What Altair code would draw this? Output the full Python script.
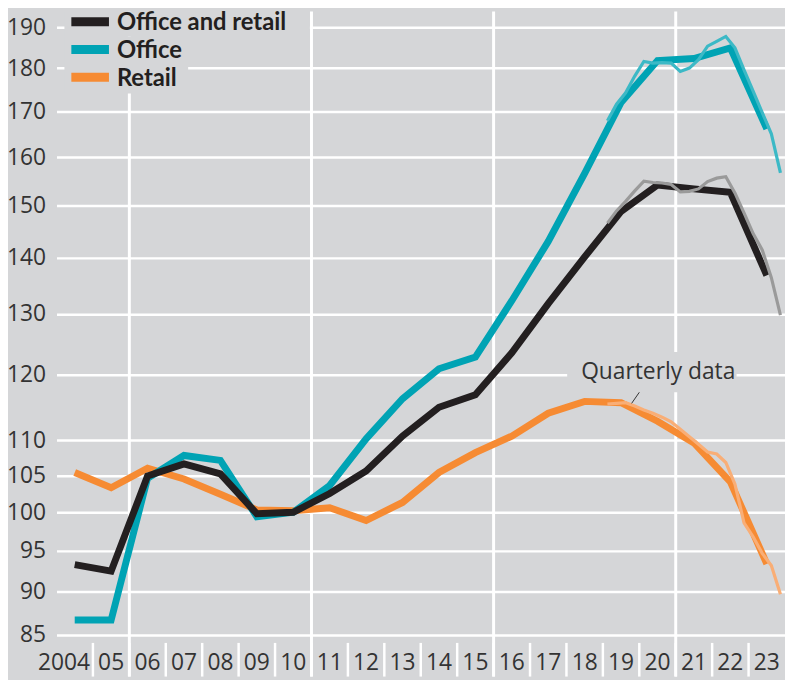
import altair as alt
import pandas as pd

# ---------------- data ----------------
years = list(range(2004, 2024))
x_labels = ["2004", "05", "06", "07", "08", "09", "10", "11", "12", "13",
            "14", "15", "16", "17", "18", "19", "20", "21", "22", "23"]

office_retail = [93.3, 92.5, 104.9, 106.6, 105.2, 99.8, 100.0, 102.5, 105.6, 110.6,
                 114.9, 116.8, 123.5, 131.8, 140.2, 148.9, 154.2, 153.4, 152.7, 136.8]
office = [86.7, 86.7, 104.6, 107.8, 107.1, 99.4, 100.0, 103.6, 110.2, 116.2,
          120.9, 122.8, 132.3, 143.1, 156.6, 172.0, 181.8, 182.3, 184.9, 166.1]
retail = [105.4, 103.3, 106.0, 104.5, 102.4, 100.3, 100.2, 100.6, 98.9, 101.3,
          105.4, 108.2, 110.6, 114.0, 115.8, 115.6, 112.8, 109.6, 104.1, 93.4]

# quarterly data 2019Q1 - 2023Q4
q_years = [2019] * 4 + [2020] * 4 + [2021] * 4 + [2022] * 4 + [2023] * 4
q_quarters = [1, 2, 3, 4] * 5
q_office_retail = [146.6, 149.0, 150.9, 153.0, 155.0, 154.7, 154.6, 154.3, 152.8, 152.9,
                   153.4, 154.9, 155.6, 155.9, 152.6, 148.6, 144.6, 141.5, 136.4, 129.8]
q_office = [167.9, 171.6, 174.2, 178.1, 181.6, 181.2, 181.3, 181.2, 179.2, 180.0,
            182.0, 185.3, 186.5, 187.7, 184.9, 179.6, 174.6, 169.7, 165.0, 156.7]
q_retail = [115.4, 115.5, 115.6, 115.1, 114.5, 114.0, 113.4, 112.7, 111.6, 110.5,
            109.4, 108.3, 108.0, 106.8, 103.8, 98.6, 96.8, 94.7, 93.2, 89.7]

series_names = ["Office and retail", "Office", "Retail"]
annual_colors = ["#231f20", "#00a3b4", "#f68b33"]
quarterly_colors = ["#9a9a9a", "#3cb9c6", "#f9ae76"]

y_ticks = [85, 90, 95, 100, 105, 110, 120, 130, 140, 150, 160, 170, 180, 190]
major_years = [2006, 2011, 2016, 2021]
minor_years = list(range(2005, 2024))

annotation_text = "Quarterly data"

# ---------------- style ----------------
BG = "#d5d6d8"
FONT = "Open Sans"
LFONT = "Lato"
TXT = "#333333"
W, H = 736, 672

xscale = alt.Scale(domain=[2004, 2024], nice=False, zero=False)
yscale = alt.Scale(type="log", domain=[80.45, 194.02], nice=False, zero=False)
yaxis = alt.Axis(values=y_ticks, grid=True, gridColor="white", gridWidth=2.5,
                 gridOpacity=1, domain=False, ticks=False, labelFontSize=23,
                 labelFont=FONT, labelColor=TXT, labelPadding=11, title=None,
                 labelOverlap=False, labelFlush=False, format="d")


def X(field):
    return alt.X(field, type="quantitative", scale=xscale, axis=None)


def Y(field):
    return alt.Y(field, type="quantitative", scale=yscale, axis=yaxis)


one = pd.DataFrame({"a": [0]})

layers = []

# vertical white lines
major_df = pd.DataFrame({"t": major_years})
layers.append(alt.Chart(major_df).mark_rule(color="white", strokeWidth=3).encode(
    x=X("t"), y=alt.value(0), y2=alt.value(H)))
minor_df = pd.DataFrame({"t": minor_years})
layers.append(alt.Chart(minor_df).mark_rule(color="white", strokeWidth=2.5).encode(
    x=X("t"), y=alt.value(H - 34), y2=alt.value(H)))

# x labels
LAB_Y = H - 7
lab_df = pd.DataFrame({"mid": [y + 0.5 for y in years[1:]], "label": x_labels[1:]})
layers.append(alt.Chart(lab_df).mark_text(font=FONT, fontSize=23, color=TXT,
                                          align="center", baseline="alphabetic").encode(
    x=X("mid"), y=alt.value(LAB_Y), text="label:N"))
first_df = pd.DataFrame({"edge": [years[1]], "label": [x_labels[0]]})
layers.append(alt.Chart(first_df).mark_text(font=FONT, fontSize=23, color=TXT,
                                            align="right", baseline="alphabetic", dx=-3).encode(
    x=X("edge"), y=alt.value(LAB_Y), text="label:N"))

# masks (legend + annotation background)
layers.append(alt.Chart(one).mark_rect(color=BG).encode(
    x=alt.value(8), x2=alt.value(256), y=alt.value(0), y2=alt.value(25)))
layers.append(alt.Chart(one).mark_rect(color=BG).encode(
    x=alt.value(8), x2=alt.value(133), y=alt.value(25), y2=alt.value(83)))
ann_mask = pd.DataFrame({"x0": [2018.02], "x1": [2022.67], "y0": [117.2], "y1": [123.6]})
layers.append(alt.Chart(ann_mask).mark_rect(color=BG).encode(
    x=X("x0"), x2="x1", y=Y("y0"), y2="y1"))

# annual lines (retail bottom, office, office and retail on top)
annual = [office_retail, office, retail]
quarterly = [q_office_retail, q_office, q_retail]
for i in [2, 1, 0]:
    df = pd.DataFrame({"t": [y + 0.5 for y in years], "v": annual[i]})
    layers.append(alt.Chart(df).mark_line(color=annual_colors[i], strokeWidth=7).encode(
        x=X("t"), y=Y("v")))
for i in [2, 1, 0]:
    df = pd.DataFrame({"t": [y + (q - 0.5) / 4 for y, q in zip(q_years, q_quarters)],
                       "v": quarterly[i]})
    layers.append(alt.Chart(df).mark_line(color=quarterly_colors[i], strokeWidth=3.2).encode(
        x=X("t"), y=Y("v")))

# legend
for i, name in enumerate(series_names):
    yc = 10.5 + 28 * i
    layers.append(alt.Chart(one).mark_rule(color=annual_colors[i], strokeWidth=9).encode(
        x=alt.value(15), x2=alt.value(53), y=alt.value(yc), y2=alt.value(yc)))
    layers.append(alt.Chart(one).mark_text(text=name, font=LFONT, fontSize=24,
                                           fontWeight="bold", color="#231f20",
                                           align="left", baseline="alphabetic").encode(
        x=alt.value(61), y=alt.value(yc + 8.5)))

# annotation
ann_df = pd.DataFrame({"t": [2020.52], "v": [120], "label": [annotation_text]})
layers.append(alt.Chart(ann_df).mark_text(font=FONT, fontSize=23, color=TXT,
                                          align="center", baseline="alphabetic", dy=5).encode(
    x=X("t"), y=Y("v"), text="label:N"))
lead_df = pd.DataFrame({"t0": [2020.0], "t1": [2019.79], "v0": [117.2], "v1": [115.5]})
layers.append(alt.Chart(lead_df).mark_rule(color=TXT, strokeWidth=1).encode(
    x=X("t0"), x2="t1", y=Y("v0"), y2="v1"))

chart = alt.layer(*layers).properties(
    width=W, height=H,
    autosize=alt.AutoSizeParams(type="none"),
    padding={"left": 49, "top": 0, "right": 0, "bottom": 0},
    background=BG,
).configure_view(stroke=None, fill=BG)

chart.save("out.html", embed_options={"renderer": "svg", "actions": False})
